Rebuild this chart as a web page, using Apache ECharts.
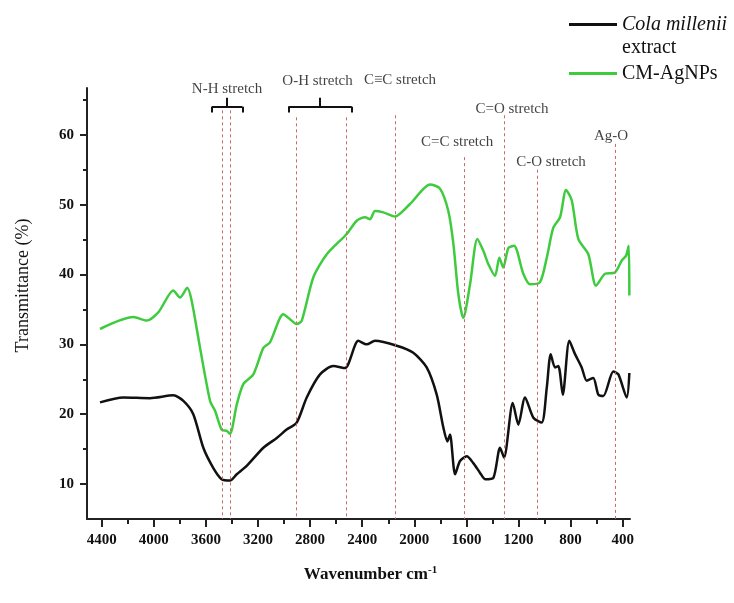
<!DOCTYPE html>
<html>
<head>
<meta charset="utf-8">
<script src="https://cdn.jsdelivr.net/npm/echarts@6/dist/echarts.min.js"></script>
</head>
<body style="margin:0">
<div id="container" style="width:734px;height:603px"></div>
<script>
// wavenumber (cm-1) and transmittance (%)
var colaWn = [4413,4234,4029,3850,3773,3697,3620,3543,3479,3415,3363,3287,3159,3056,2980,2903,2826,2724,2622,2532,2430,2365,2302,2135,2008,1905,1828,1777,1746,1726,1687,1649,1597,1547,1495,1457,1393,1342,1311,1244,1201,1150,1086,1022,983,953,920,894,860,810,766,715,676,626,587,549,472,433,369,349];
var colaT = [21.7,22.4,22.3,22.7,21.9,20.0,15.2,12.3,10.7,10.5,11.4,12.6,15.2,16.6,17.8,18.8,22.4,25.7,26.9,26.6,30.5,30.0,30.5,29.8,28.8,26.7,22.8,18.1,16.1,17.1,11.4,13.3,14.0,13.0,11.6,10.7,10.9,15.2,13.8,21.6,18.5,22.4,19.5,18.8,23.8,28.6,26.7,26.9,22.8,30.5,28.6,26.7,24.8,25.2,22.8,22.6,26.1,25.7,22.4,25.9];

var agWn = [4413,4157,4055,3965,3850,3799,3743,3709,3645,3568,3530,3479,3440,3415,3363,3313,3236,3159,3108,3006,2954,2903,2864,2775,2672,2519,2442,2378,2340,2302,2238,2148,2033,1879,1803,1739,1700,1662,1624,1572,1516,1470,1432,1380,1347,1317,1278,1234,1163,1112,1035,983,933,881,835,791,741,664,605,536,459,407,374,354,349];
var agT = [32.2,33.9,33.4,34.6,37.7,36.7,38.1,36.2,29.5,21.9,20.5,17.8,17.6,17.2,21.4,24.3,25.7,29.5,30.3,34.3,33.6,32.9,33.4,39.6,42.9,45.8,47.7,48.2,47.9,49.1,48.9,48.3,50.1,52.9,52.3,49.1,44.4,37.2,33.8,38.6,45.1,43.4,41.5,39.8,42.4,41.0,43.8,44.1,40.1,38.6,38.9,42.4,46.7,48.2,52.1,50.6,45.1,42.9,38.4,40.1,40.3,42.0,42.7,44.1,37.0];

// axis ticks
var xMajor = [4400,4000,3600,3200,2800,2400,2000,1600,1200,800,400];
var xMinor = [4200,3800,3400,3000,2600,2200,1800,1400,1000,600];
var yMajor = [10,20,30,40,50,60];
var yMinor = [15,25,35,45,55,65];

// band markers (dashed lines) and their labels
var bandWn = [3471,3410,2903,2519,2148,1616,1311,1056,459];
var bandTop = [63.5,63.5,62.5,62.5,62.8,56.8,62.8,55.0,58.7];
var bandNames = ['N-H stretch','O-H stretch','C\u2261C stretch','C=C stretch','C=O stretch','C-O stretch','Ag-O'];
var bandLabelWn = [3438,2743,2110,1672,1250,950,490];
var bandLabelT = [66.6,67.7,67.9,58.9,63.7,56.1,59.8];
// braces over N-H and O-H: [left, centre, right]
var braceWn = [[3555,3438,3320],[2967,2724,2480]];
var braceLevels = [63.2,64.0,65.3]; // hook end, bar, centre tip
var arrowFrom = [2010,66.8];
var arrowTo = [2163,63.5];

var font = 'Liberation Serif';

function zip(a, b) {
    var out = [];
    for (var i = 0; i < a.length; i++) out.push([a[i], b[i]]);
    return out;
}

var bandLines = bandWn.map(function (w, i) {
    return [{coord: [w, bandTop[i]]}, {coord: [w, 5]}];
});
var braceLines = [];
braceWn.forEach(function (b) {
    braceLines.push([{coord: [b[0], braceLevels[1]]}, {coord: [b[2], braceLevels[1]]}]);
    braceLines.push([{coord: [b[0], braceLevels[0]]}, {coord: [b[0], braceLevels[1]]}]);
    braceLines.push([{coord: [b[2], braceLevels[0]]}, {coord: [b[2], braceLevels[1]]}]);
    braceLines.push([{coord: [b[1], braceLevels[1]]}, {coord: [b[1], braceLevels[2]]}]);
});
var bandLabels = bandNames.map(function (n, i) {
    return [bandLabelWn[i], bandLabelT[i], n];
});

var legendText = {
    fontFamily: font, fontSize: 20, lineHeight: 23, color: '#111',
    rich: {i: {fontFamily: font, fontSize: 20, lineHeight: 23, fontStyle: 'italic', color: '#111'}}
};
var plain = function (v) { return String(v); };

var myChart = echarts.init(document.getElementById('container'));
var option = {
    animation: false,
    backgroundColor: '#fff',
    grid: {left: 87, right: 104, top: 88, bottom: 84},
    legend: [
        {
            data: ['Cola millenii extract'], left: 569, top: -10, padding: 0,
            icon: 'rect', itemWidth: 48, itemHeight: 3, selectedMode: false,
            formatter: function () { return '\n{i|Cola millenii}\nextract'; },
            textStyle: legendText
        },
        {
            data: ['CM-AgNPs'], left: 569, top: 62, padding: 0,
            icon: 'rect', itemWidth: 48, itemHeight: 3, selectedMode: false,
            textStyle: legendText
        }
    ],
    xAxis: [
        {
            type: 'value', inverse: true, min: 344, max: 4513,
            splitLine: {show: false},
            axisLine: {lineStyle: {color: '#222', width: 2}},
            axisTick: {customValues: xMajor, length: 8, lineStyle: {color: '#222', width: 2}},
            axisLabel: {customValues: xMajor, formatter: plain, margin: 14, color: '#111', fontFamily: font, fontWeight: 'bold', fontSize: 15},
            name: '{a|Wavenumber cm}{s|-1}', nameLocation: 'middle', nameGap: 46,
            nameTextStyle: {
                padding: [0, 0, 0, 24],
                rich: {
                    a: {fontFamily: font, fontWeight: 'bold', fontSize: 17, color: '#111'},
                    s: {fontFamily: font, fontWeight: 'bold', fontSize: 11, color: '#111', padding: [0, 0, 9, 0]}
                }
            }
        },
        {
            type: 'value', inverse: true, min: 344, max: 4513, position: 'bottom',
            splitLine: {show: false}, axisLine: {show: false}, axisLabel: {show: false},
            axisTick: {customValues: xMinor, length: 5, lineStyle: {color: '#222', width: 2}}
        }
    ],
    yAxis: [
        {
            type: 'value', min: 5, max: 66.7,
            splitLine: {show: false},
            axisLine: {show: true, lineStyle: {color: '#222', width: 2}},
            axisTick: {show: true, customValues: yMajor, length: 7, lineStyle: {color: '#222', width: 2}},
            axisLabel: {customValues: yMajor, formatter: plain, margin: 13, color: '#111', fontFamily: font, fontWeight: 'bold', fontSize: 15},
            name: 'Transmittance (%)', nameLocation: 'middle', nameGap: 55,
            nameTextStyle: {fontFamily: font, fontSize: 18, color: '#111', padding: [0, 0, 0, 36]}
        },
        {
            type: 'value', min: 5, max: 66.7, position: 'left',
            splitLine: {show: false}, axisLine: {show: false}, axisLabel: {show: false},
            axisTick: {show: true, customValues: yMinor, length: 4, lineStyle: {color: '#222', width: 2}}
        }
    ],
    series: [
        {
            name: 'bands', type: 'line', data: [], z: 1, silent: true,
            markLine: {
                silent: true, symbol: ['none', 'none'], label: {show: false},
                lineStyle: {color: '#c96a6a', type: [3, 3], width: 1},
                data: bandLines
            }
        },
        {
            name: 'braces', type: 'line', data: [], z: 1, silent: true,
            markLine: {
                silent: true, symbol: ['none', 'none'], label: {show: false},
                lineStyle: {color: '#111', type: 'solid', width: 2},
                data: braceLines
            }
        },
        {
            name: 'arrow', type: 'line', data: [], z: 1, silent: true,
            markLine: {
                silent: true, symbol: ['none', 'arrow'], symbolSize: 10, label: {show: false},
                lineStyle: {color: '#111', type: 'solid', width: 2},
                data: [[{coord: arrowFrom}, {coord: arrowTo}]]
            }
        },
        {
            name: 'labels', type: 'scatter', data: bandLabels, symbolSize: 1, clip: false, silent: true,
            itemStyle: {color: 'rgba(0,0,0,0)'},
            label: {
                show: true, position: 'inside', color: '#111', fontFamily: font, fontSize: 15,
                formatter: function (p) { return p.value[2]; }
            }
        },
        {
            name: 'Cola millenii extract', type: 'line', data: zip(colaWn, colaT),
            symbol: 'none', smooth: 0.25, z: 3,
            lineStyle: {color: '#111', width: 2.5}, itemStyle: {color: '#111'}
        },
        {
            name: 'CM-AgNPs', type: 'line', data: zip(agWn, agT),
            symbol: 'none', smooth: 0.25, z: 3,
            lineStyle: {color: '#3ecb3e', width: 2.5}, itemStyle: {color: '#3ecb3e'}
        }
    ]
};
myChart.setOption(option);
</script>
</body>
</html>
